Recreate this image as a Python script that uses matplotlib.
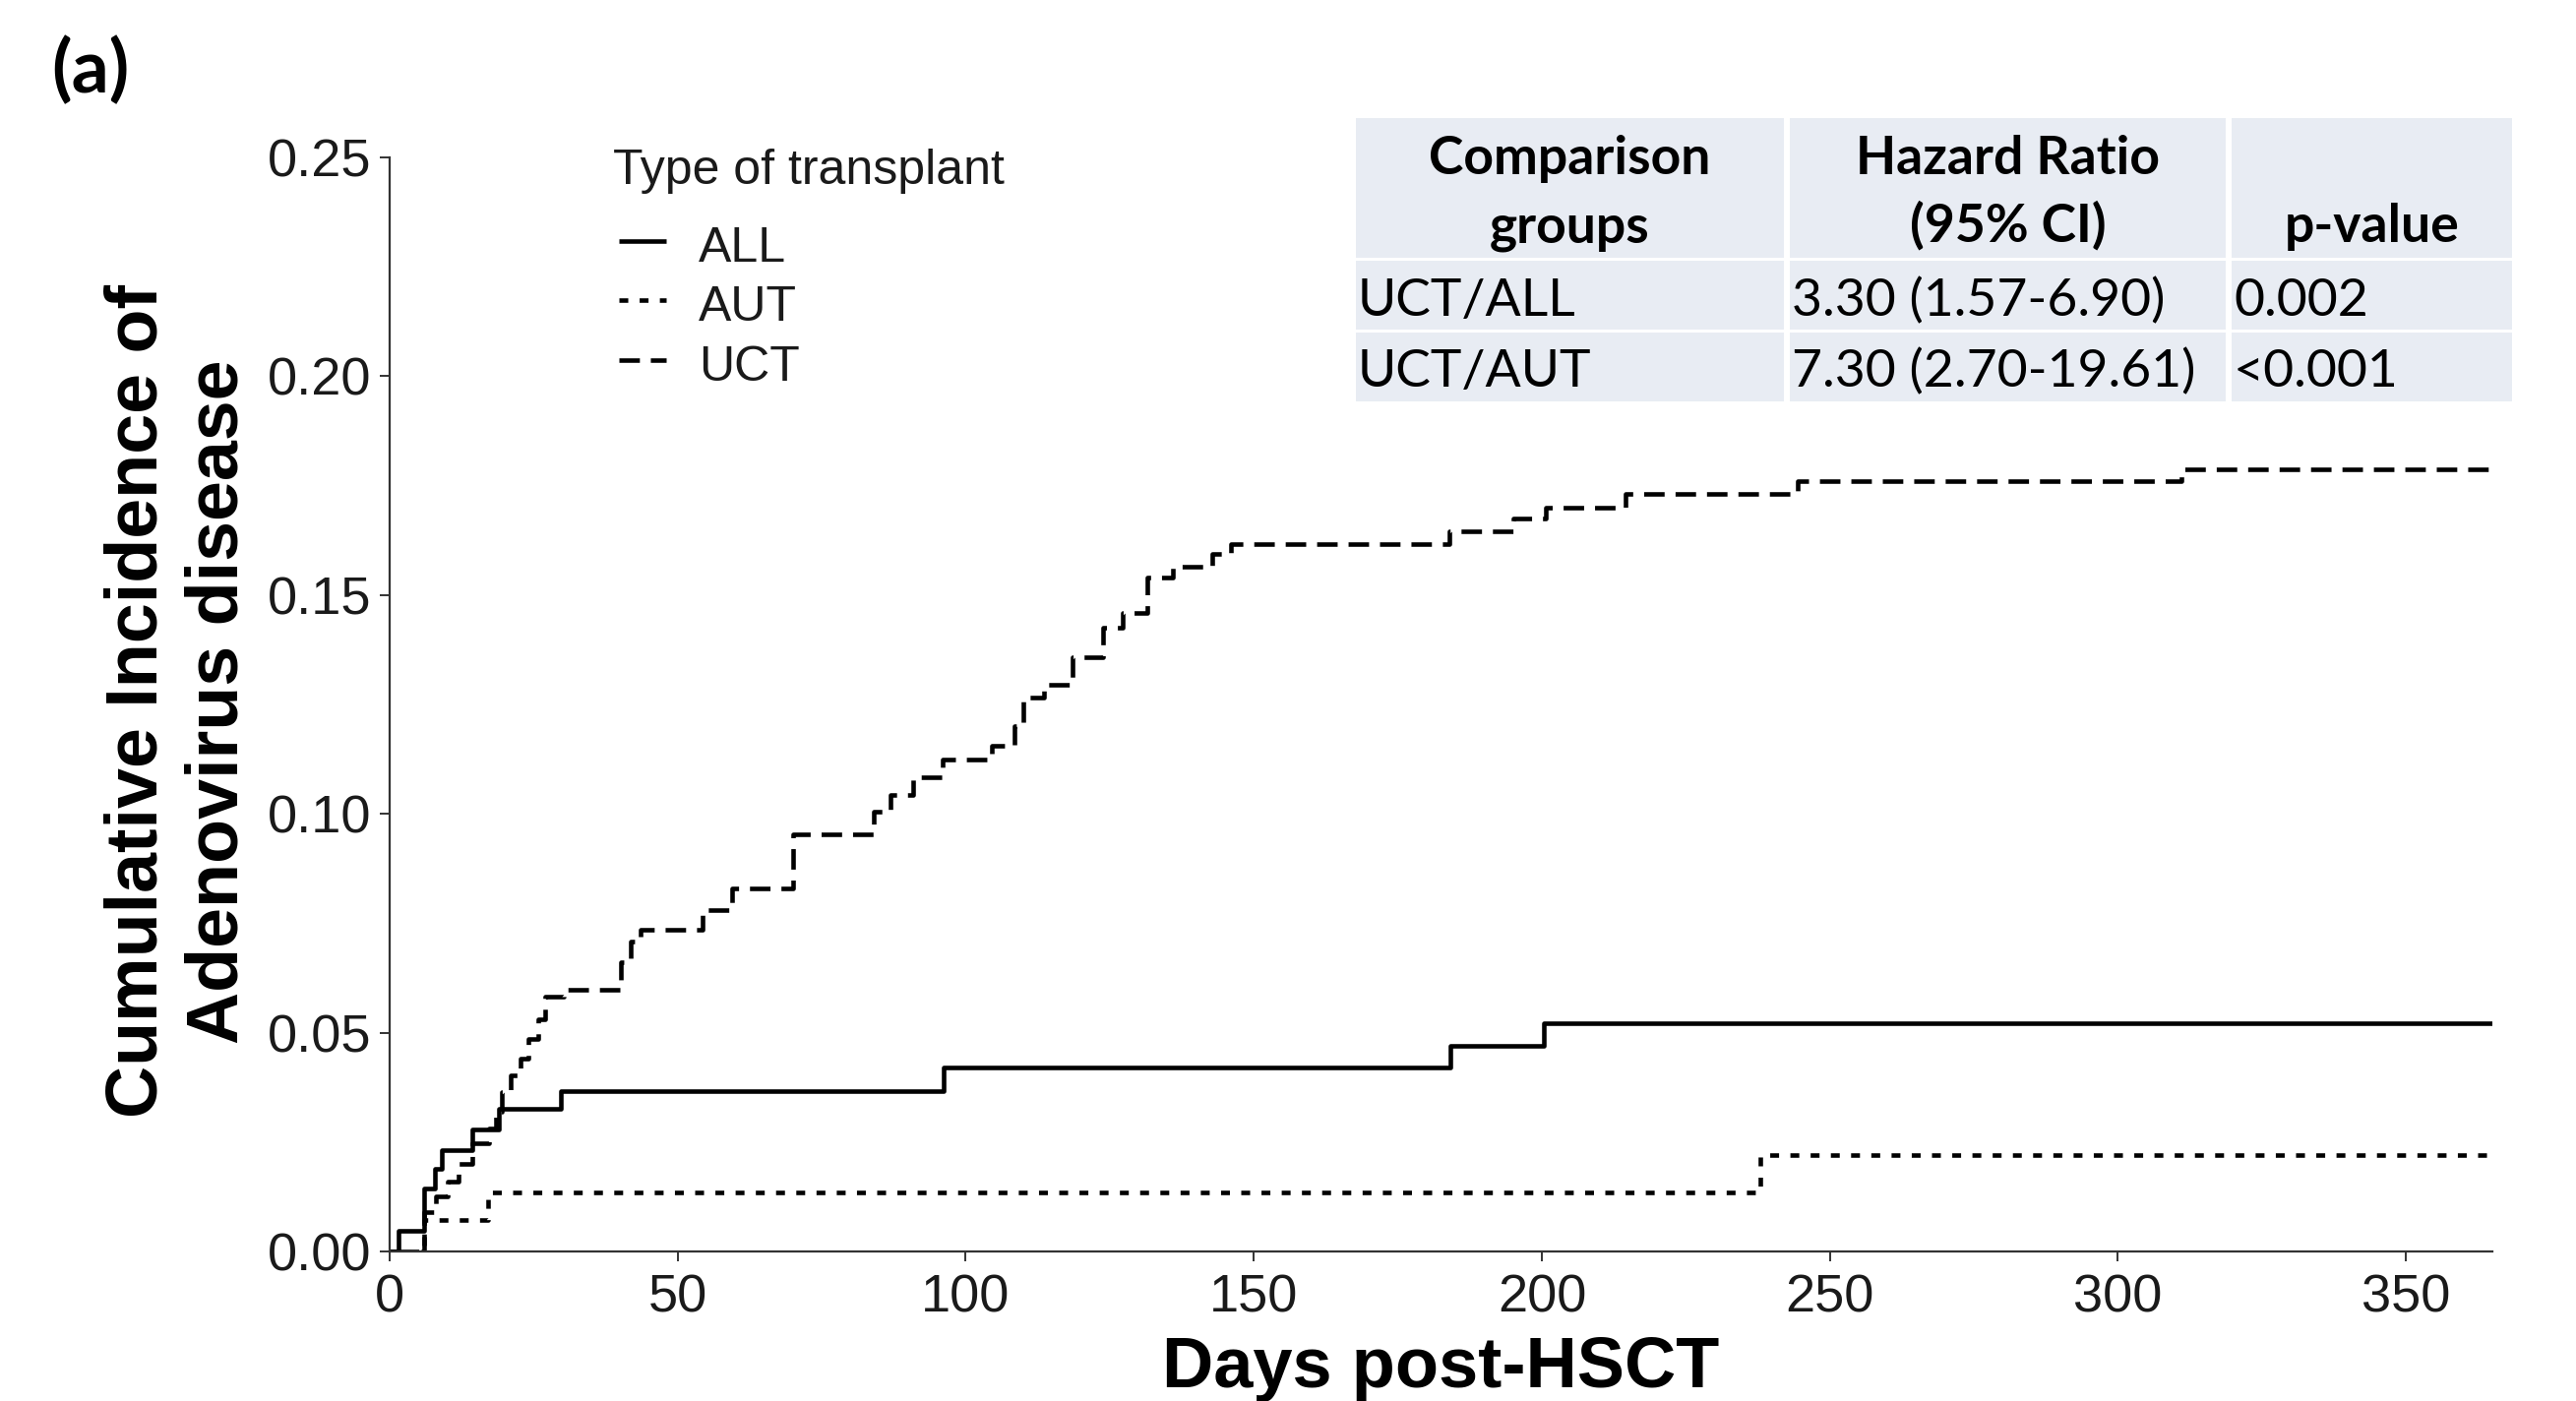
import matplotlib
matplotlib.use("Agg")
import matplotlib.pyplot as plt
from matplotlib.lines import Line2D
from matplotlib.patches import Rectangle

# ---------------- data ----------------
END_DAY = 365

all_days = [0, 1.6, 5.9, 7.9, 9.0, 14.4, 19.0, 29.8, 96.2, 184.1, 200.4]
all_vals = [0, 0.0047, 0.0144, 0.0189, 0.0232, 0.0279, 0.0327, 0.0367, 0.0421, 0.0470, 0.0521]

aut_days = [0, 5.9, 17.0, 237.9]
aut_vals = [0, 0.0072, 0.0136, 0.0221]

uct_days = [0, 5.9, 8.0, 10.0, 12.0, 14.3, 17.3, 18.5, 19.5, 21.0, 22.7, 24.1, 25.8, 27.0,
            30.3, 40.1, 41.8, 43.5, 54.3, 59.4, 70.0, 84.1, 87.0, 90.8, 96.0, 104.5,
            108.5, 110.0, 113.5, 118.5, 123.8, 127.2, 131.5, 136.0, 142.8, 146.0,
            184.0, 195.0, 200.7, 214.5, 244.5, 311.0]
uct_vals = [0, 0.0090, 0.0125, 0.0160, 0.0200, 0.0248, 0.0280, 0.0320, 0.0365, 0.0402,
            0.0440, 0.0485, 0.0530, 0.0582, 0.0598, 0.0660, 0.0709, 0.0736, 0.0780,
            0.0830, 0.0953, 0.1004, 0.1043, 0.1083, 0.1125, 0.1155, 0.1200, 0.1265,
            0.1294, 0.1358, 0.1425, 0.1460, 0.1541, 0.1565, 0.1594, 0.1616, 0.1646,
            0.1676, 0.1699, 0.1730, 0.1760, 0.1788]

groups = ["ALL", "AUT", "UCT"]
x_ticks = [0, 50, 100, 150, 200, 250, 300, 350]
y_ticks = [0.00, 0.05, 0.10, 0.15, 0.20, 0.25]

table_header = [("Comparison", "groups"), ("Hazard Ratio", "(95% CI)"), (None, "p-value")]
table_rows = [["UCT/ALL", "3.30 (1.57-6.90)", "0.002"],
              ["UCT/AUT", "7.30 (2.70-19.61)", "<0.001"]]

# ---------------- figure ----------------
W, H = 2618, 1424
plt.rcParams['lines.scale_dashes'] = False
fig = plt.figure(figsize=(W / 100, H / 100), dpi=100)


def fx(px):
    return px / W


def fy(py):
    return 1 - py / H


SANS = ["Liberation Sans", "DejaVu Sans"]
CAL = ["Lato", "DejaVu Sans"]

ax = fig.add_axes([fx(396), fy(1272), fx(2533) - fx(396), fy(160) - fy(1272)])

LW = 3.3
styles = {
    "ALL": dict(linestyle="-"),
    "AUT": dict(linestyle=(0, (6.5, 8.3))),
    "UCT": dict(linestyle=(0, (15, 8))),
}
series = {"ALL": (all_days, all_vals), "AUT": (aut_days, aut_vals), "UCT": (uct_days, uct_vals)}
for g in groups:
    d, v = series[g]
    ax.step(list(d) + [END_DAY], list(v) + [v[-1]], where="post", color="black",
            lw=LW, solid_capstyle="butt", dash_capstyle="butt", **styles[g])

ax.set_xlim(0, END_DAY)
ax.set_ylim(0, 0.25)
ax.set_xticks(x_ticks)
ax.set_yticks(y_ticks)
ax.set_yticklabels([f"{t:.2f}" for t in y_ticks])
for s in ["top", "right"]:
    ax.spines[s].set_visible(False)
for s in ["left", "bottom"]:
    ax.spines[s].set_color("#333333")
    ax.spines[s].set_linewidth(1.6)
ax.tick_params(axis="both", length=7, width=1.4, color="#333333", labelcolor="#1a1a1a")
ax.tick_params(axis="y", pad=6.5)
ax.tick_params(axis="x", pad=9)
for lab in ax.get_xticklabels() + ax.get_yticklabels():
    lab.set_fontfamily(SANS)
    lab.set_fontsize(39)

# axis titles
fig.text(fx(1464), fy(1410), "Days post-HSCT", fontsize=52, fontweight="bold",
         family=SANS, ha="center", va="baseline")
fig.text(fx(160), fy(713), "Cumulative Incidence of", fontsize=53, fontweight="bold",
         family=SANS, rotation=90, rotation_mode="anchor", ha="center", va="baseline")
fig.text(fx(242), fy(713), "Adenovirus disease", fontsize=53, fontweight="bold",
         family=SANS, rotation=90, rotation_mode="anchor", ha="center", va="baseline")

# panel label
fig.text(fx(52), fy(94), "(a)", fontsize=54, fontweight="bold", family=CAL,
         ha="left", va="baseline")

# legend (drawn manually)
fig.text(fx(623), fy(187), "Type of transplant", fontsize=36, family=SANS,
         ha="left", va="baseline", color="#1a1a1a")
leg_y = [245, 305, 366]
leg_base = [266, 326.5, 387]
for g, yy, yb in zip(groups, leg_y, leg_base):
    fig.add_artist(Line2D([fx(629), fx(677)], [fy(yy), fy(yy)], transform=fig.transFigure,
                          color="black", lw=LW, solid_capstyle="butt", dash_capstyle="butt",
                          **styles[g]))
    fig.text(fx(710), fy(yb), g, fontsize=36, family=SANS, ha="left", va="baseline",
             color="#1a1a1a")

# table
TBG = "#E8ECF3"
cols = [(1378, 1813), (1819, 2262), (2268, 2553)]
rows = [(120, 262), (265, 335), (338, 408)]
for (x0, x1) in cols:
    for (y0, y1) in rows:
        fig.add_artist(Rectangle((fx(x0), fy(y1)), fx(x1) - fx(x0), fy(y0) - fy(y1),
                                 transform=fig.transFigure, facecolor=TBG, edgecolor="none"))
TFS = 38.5
for (x0, x1), (l1, l2) in zip(cols, table_header):
    cx = (x0 + x1) / 2
    if l1:
        fig.text(fx(cx), fy(177), l1, fontsize=TFS, fontweight="bold", family=CAL,
                 ha="center", va="baseline")
    fig.text(fx(cx), fy(246), l2, fontsize=TFS, fontweight="bold", family=CAL,
             ha="center", va="baseline")
row_base = [321, 393]
for r, yb in zip(table_rows, row_base):
    for (x0, x1), txt in zip(cols, r):
        fig.text(fx(x0 + 2), fy(yb), txt, fontsize=TFS, family=CAL, ha="left", va="baseline")

fig.savefig("out.png", dpi=100)
